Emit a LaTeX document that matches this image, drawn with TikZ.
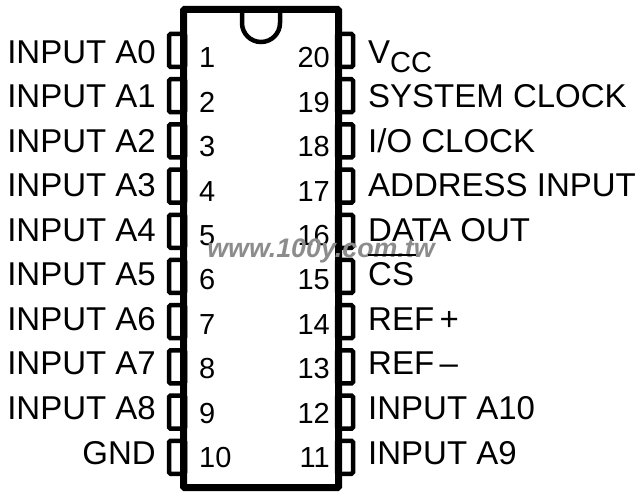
\documentclass[tikz,border=0pt]{standalone}
\usepackage{fontspec}
\setmainfont{Liberation Sans}
\tikzset{
  pinbox/.style={draw,line width=4.5pt,fill=white,rounded corners=1.5pt,minimum width=16pt,minimum height=33pt,inner sep=0pt},
  pinlabel/.style={font=\fontsize{33}{35}\selectfont,inner sep=0pt},
  pinnum/.style={font=\fontsize{29}{31}\selectfont,inner sep=0pt}
}
\begin{document}
\begin{tikzpicture}[x=1pt,y=1pt]
\useasboundingbox (0,0) rectangle (640,501);
% pins on the left and on the right side
\foreach \n/\txt in {1/INPUT A0,2/INPUT A1,3/INPUT A2,4/INPUT A3,5/INPUT A4,6/INPUT A5,7/INPUT A6,8/INPUT A7,9/INPUT A8,10/GND} {
  \pgfmathsetmacro{\rowy}{501-50.5-45.2*(\n-1)}
  \pgfmathsetmacro{\texty}{501-63.5-44.5*(\n-1)}
  \pgfmathsetmacro{\numy}{501-68-44.4*(\n-1)}
  \node[pinbox] (pin\n) at (177,\rowy) {};
  \node[pinlabel,anchor=base east] (label\n) at (156,\texty) {\txt};
  \node[pinnum,anchor=base west] (num\n) at (199,\numy) {\n};
}
\foreach \n/\txt in {19/SYSTEM CLOCK,18/{I/O CLOCK},17/ADDRESS INPUT,16/DATA OUT,15/CS,14/REF\,+,13/REF\,--,12/INPUT A10,11/INPUT A9,20/{V\raisebox{-9pt}{\fontsize{29}{31}\selectfont CC}}} {
  \pgfmathsetmacro{\rowy}{501-50.5-45.2*(20-\n)}
  \pgfmathsetmacro{\texty}{501-63.5-44.5*(20-\n)}
  \pgfmathsetmacro{\numy}{501-68-44.4*(20-\n)}
  \node[pinbox] (pin\n) at (345,\rowy) {};
  \node[pinlabel,anchor=base west] (label\n) at (368,\texty) {\txt};
  \node[pinnum,anchor=base east] (num\n) at (330,\numy) {\n};
}
% package outline and notch
\node[draw,line width=7pt,fill=none,rounded corners=1pt,minimum width=155pt,minimum height=478pt,inner sep=0pt] (body) at (261,252.5) {};
\coordinate (notchl) at (242,492);
\coordinate (notchr) at (280,492);
\draw[line width=4.5pt] (notchl) -- ++(0,-14) arc[start angle=180,end angle=360,radius=19] -- (notchr);
\node[font=\bfseries\itshape\fontsize{26.8}{29}\selectfont,text=black!45,inner sep=0pt] (mark) at (321,250) {www.100y.com.tw};
% bar over the chip select
\draw[line width=2.5pt] ([yshift=8pt]label15.north west) -- ([yshift=8pt,xshift=2pt]label15.north east);
\end{tikzpicture}
\end{document}
